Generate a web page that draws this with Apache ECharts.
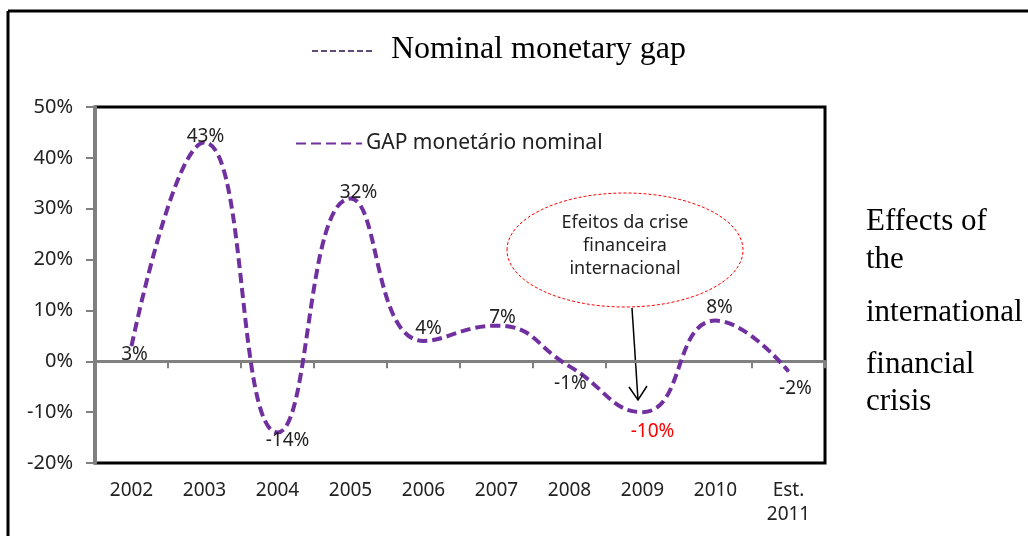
<!DOCTYPE html>
<html>
<head>
<meta charset="utf-8">
<script src="https://cdn.jsdelivr.net/npm/echarts@6/dist/echarts.min.js"></script>
<style>
  html, body { margin: 0; padding: 0; background: #fff; }
  #chartBox { width: 1028px; height: 536px; }
</style>
</head>
<body>
<div id="chartBox"></div>
<script>
// anos e valores do gap monetário nominal (%)
const years = ['2002', '2003', '2004', '2005', '2006', '2007', '2008', '2009', '2010', 'Est.\n2011'];
const gapValues = [3, 43, -14, 32, 4, 7, -1, -10, 8, -2];
const yTicks = { min: -20, max: 50, step: 10 };
// deslocamento de cada rótulo em relação ao ponto
const labelOffsets = [[3, 9], [1, -6], [10, 8], [8, -6], [5, -12], [6, -8], [1, 17], [10, 19], [4, -13], [7, 17]];
const highlightYear = '2009';

const font = 'Noto Sans';
const serif = 'Liberation Serif';

let myChart = echarts.init(document.getElementById('chartBox'));

let seriesData = gapValues.map(function (v, i) {
  return {
    value: v,
    label: {
      offset: labelOffsets[i],
      color: years[i] === highlightYear ? '#ff0000' : '#222'
    }
  };
});

myChart.setOption({
  animation: false,
  grid: {
    left: 95,
    top: 107,
    right: 203,
    bottom: 73,
    show: true,
    borderColor: '#000',
    borderWidth: 3
  },
  legend: {
    left: 290,
    top: 128,
    itemWidth: 66,
    itemHeight: 14,
    itemGap: 6,
    itemStyle: { opacity: 0 },
    textStyle: { fontFamily: font, fontSize: 21, color: '#222', padding: [0, 0, 0, -1] },
    data: ['GAP monetário nominal']
  },
  xAxis: [{
    type: 'category',
    data: years,
    boundaryGap: true,
    axisLine: { onZero: true, lineStyle: { color: '#808080', width: 3 } },
    axisTick: { show: true, length: 7, lineStyle: { color: '#808080', width: 2 } },
    axisLabel: { show: false }
  }, {
    type: 'category',
    data: years,
    position: 'bottom',
    axisLine: { show: false, onZero: false },
    axisTick: { show: false },
    axisLabel: { fontFamily: font, fontSize: 19, color: '#222', margin: 16, lineHeight: 24 }
  }],
  yAxis: {
    type: 'value',
    min: yTicks.min,
    max: yTicks.max,
    interval: yTicks.step,
    splitLine: { show: false },
    axisLine: { show: true, lineStyle: { color: '#808080', width: 3 } },
    axisTick: { show: true, length: 9, lineStyle: { color: '#808080', width: 2 } },
    axisLabel: { formatter: '{value}%', fontFamily: font, fontSize: 20, color: '#222', margin: 22 }
  },
  series: [{
    name: 'GAP monetário nominal',
    type: 'line',
    xAxisIndex: 0,
    data: seriesData,
    smooth: 0.5,
    symbol: 'circle',
    symbolSize: 1,
    itemStyle: { color: '#7030A0' },
    lineStyle: { color: '#7030A0', width: 4, type: [10, 5], cap: 'butt' },
    label: {
      show: true,
      position: 'inside',
      formatter: '{c}%',
      fontFamily: font,
      fontSize: 19
    }
  }],
  graphic: [
    // moldura externa
    { type: 'line', shape: { x1: 8, y1: 11, x2: 1028, y2: 11 }, style: { stroke: '#000', lineWidth: 3 } },
    { type: 'line', shape: { x1: 8, y1: 11, x2: 8, y2: 536 }, style: { stroke: '#000', lineWidth: 3 } },
    // título
    { type: 'line', shape: { x1: 312, y1: 51, x2: 374, y2: 51 }, style: { stroke: '#604a7b', lineWidth: 2, lineDash: [6, 3] } },
    { type: 'text', x: 391, y: 50, style: { text: 'Nominal monetary gap', font: '32px "' + serif + '"', fill: '#000', verticalAlign: 'middle' } },
    // elipse da crise
    { type: 'ellipse', shape: { cx: 625, cy: 250, rx: 118, ry: 57 }, style: { fill: 'none', stroke: '#ff0000', lineWidth: 1, lineDash: [3, 2] } },
    { type: 'text', x: 625, y: 246, style: { text: 'Efeitos da crise\nfinanceira\ninternacional', font: '18px "' + font + '"', fill: '#222', align: 'center', verticalAlign: 'middle', lineHeight: 23 } },
    // seta
    { type: 'line', shape: { x1: 632, y1: 308, x2: 638, y2: 400 }, style: { stroke: '#000', lineWidth: 1.5 } },
    { type: 'polyline', shape: { points: [[629, 387], [638, 400], [647, 386]] }, style: { stroke: '#000', lineWidth: 1.5, fill: 'none' } },
    // texto lateral
    { type: 'text', x: 866, y: 222, style: { text: 'Effects of', font: '31px "' + serif + '"', fill: '#000', verticalAlign: 'middle' } },
    { type: 'text', x: 866, y: 260, style: { text: 'the', font: '31px "' + serif + '"', fill: '#000', verticalAlign: 'middle' } },
    { type: 'text', x: 866, y: 313, style: { text: 'international', font: '31px "' + serif + '"', fill: '#000', verticalAlign: 'middle' } },
    { type: 'text', x: 866, y: 365, style: { text: 'financial', font: '31px "' + serif + '"', fill: '#000', verticalAlign: 'middle' } },
    { type: 'text', x: 866, y: 402, style: { text: 'crisis', font: '31px "' + serif + '"', fill: '#000', verticalAlign: 'middle' } }
  ]
});
</script>
</body>
</html>
